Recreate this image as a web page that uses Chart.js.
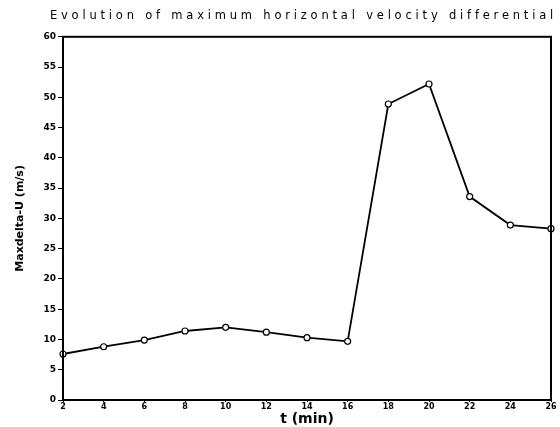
<!DOCTYPE html>
<html>
<head>
<meta charset="utf-8">
<script src="https://cdn.jsdelivr.net/npm/chart.js@4.4.0/dist/chart.umd.min.js"></script>
<style>
  html, body { margin: 0; padding: 0; background: #fff; }
  #wrap { width: 560px; height: 427px; }
</style>
</head>
<body>
<div id="wrap"><canvas id="velocity-chart"></canvas></div>
<script>
const times = [2, 4, 6, 8, 10, 12, 14, 16, 18, 20, 22, 24, 26];
const maxDeltaU = [7.6, 8.8, 9.9, 11.4, 12.0, 11.2, 10.3, 9.7, 48.9, 52.2, 33.6, 28.9, 28.3];
const titleText = 'Evolution of maximum horizontal velocity differential';
const xLabel = 't (min)';
const yLabel = 'Maxdelta-U (m/s)';

const velocityCanvas = document.getElementById('velocity-chart');

// the title in the picture is widely letter spaced
const spacedTitle = {
  id: 'spacedTitle',
  beforeDraw(chart) {
    const box = chart.titleBlock;
    if (!box || box.spaced) return;
    const draw = box.draw.bind(box);
    box.draw = function () {
      chart.ctx.save();
      chart.ctx.letterSpacing = '3.8px';
      chart.ctx.translate(6, 0);
      draw();
      chart.ctx.restore();
    };
    box.spaced = true;
  }
};

// box round the plot
const frame = {
  id: 'frame',
  afterDraw(chart) {
    const { ctx, chartArea } = chart;
    ctx.save();
    ctx.strokeStyle = '#000';
    ctx.lineWidth = 2;
    ctx.strokeRect(chartArea.left, chartArea.top, chartArea.right - chartArea.left, chartArea.bottom - chartArea.top);
    ctx.restore();
  }
};

let velocityChart = new Chart(velocityCanvas, {
  type: 'line',
  data: {
    datasets: [{
      data: times.map((t, i) => ({ x: t, y: maxDeltaU[i] })),
      borderColor: '#000',
      borderWidth: 1.8,
      pointRadius: 3,
      pointBorderWidth: 1.2,
      pointBackgroundColor: '#fff',
      pointBorderColor: '#000',
      tension: 0,
      clip: false
    }]
  },
  options: {
    responsive: true,
    maintainAspectRatio: false,
    animation: false,
    layout: { padding: { left: 0, right: 9, top: 0, bottom: 0 } },
    plugins: {
      legend: { display: false },
      tooltip: { enabled: false },
      title: {
        display: true,
        text: titleText,
        align: 'end',
        color: '#000',
        font: { family: 'DejaVu Sans', size: 11.5, weight: 'normal' },
        padding: { top: 9, bottom: 14 }
      }
    },
    scales: {
      x: {
        type: 'linear',
        min: 2,
        max: 26,
        ticks: {
          stepSize: 2,
          color: '#000',
          padding: 0,
          maxRotation: 0,
          font: { family: 'DejaVu Sans', size: 8, weight: 'bold' }
        },
        grid: { drawOnChartArea: false, drawTicks: true, tickLength: 2, color: '#000' },
        border: { color: '#000', width: 2 },
        title: {
          display: true,
          text: xLabel,
          color: '#000',
          padding: { top: 0, bottom: -1 },
          font: { family: 'DejaVu Sans', size: 14, weight: 'bold' }
        },
        afterFit(scale) { scale.height = 27; }
      },
      y: {
        min: 0,
        max: 60,
        ticks: {
          stepSize: 5,
          color: '#000',
          padding: 2,
          font: { family: 'DejaVu Sans', size: 9, weight: 'bold' }
        },
        grid: { drawOnChartArea: false, drawTicks: true, tickLength: 5, color: '#000' },
        border: { color: '#000', width: 2 },
        title: {
          display: true,
          text: yLabel,
          color: '#000',
          padding: { top: 14, bottom: 0 },
          font: { family: 'DejaVu Sans', size: 11, weight: 'bold' }
        },
        afterFit(scale) { scale.width = 63; }
      }
    }
  },
  plugins: [spacedTitle, frame]
});
</script>
</body>
</html>
